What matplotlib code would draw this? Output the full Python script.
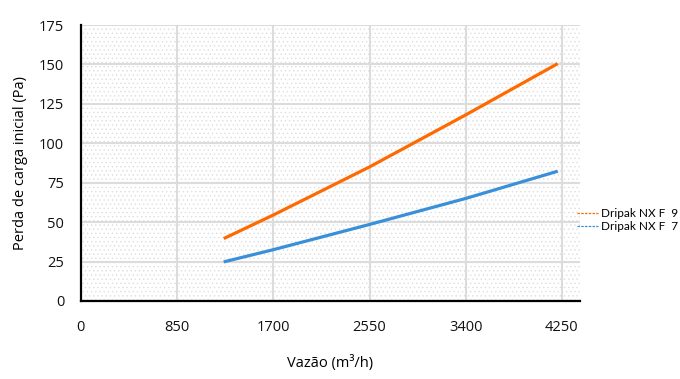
import numpy as np
import matplotlib
matplotlib.use("Agg")
import matplotlib.pyplot as plt
from matplotlib.patches import Rectangle
from matplotlib.lines import Line2D

# dados
vazao = [1275, 1700, 2550, 3400, 4200]
perda_f9 = [40, 54.5, 85, 118, 150]
perda_f7 = [25, 32.5, 48.5, 65, 82]
serie_nomes = ["Dripak NX F  9", "Dripak NX F  7"]
x_ticks = [0, 850, 1700, 2550, 3400, 4250]
y_ticks = [0, 25, 50, 75, 100, 125, 150, 175]

cor_f9 = "#FF6A00"
cor_f7 = "#3A90D8"

plt.rcParams['font.family'] = ['Open Sans', 'DejaVu Sans']
plt.rcParams['hatch.color'] = '#dedede'
plt.rcParams['hatch.linewidth'] = 0.5

fig = plt.figure(figsize=(6.8, 3.79), dpi=100)
ax = fig.add_axes([0.119, 0.206, 0.734, 0.728])

# fundo pontilhado
ax.add_patch(Rectangle((0, 0), 1, 1, transform=ax.transAxes, facecolor='white',
                       edgecolor='#dedede', hatch='....', linewidth=0, zorder=0))

ax.plot(vazao, perda_f9, color=cor_f9, lw=2.3, zorder=3)
ax.plot(vazao, perda_f7, color=cor_f7, lw=2.3, zorder=3)

ax.set_xlim(0, 4410)
ax.set_ylim(0, 175)
ax.set_xticks(x_ticks)
ax.set_yticks(y_ticks)
ax.grid(True, color='#dcdcdc', lw=1.5, zorder=1)
ax.set_axisbelow(True)
ax.tick_params(length=0, labelsize=10.5, colors='#111111')
ax.tick_params(axis='x', pad=14)
ax.tick_params(axis='y', pad=12)

for s in ['top', 'right']:
    ax.spines[s].set_visible(False)
for s in ['left', 'bottom']:
    ax.spines[s].set_linewidth(1.6)
    ax.spines[s].set_color('black')
    ax.spines[s].set_zorder(4)

ax.set_ylabel("Perda de carga inicial (Pa)", fontsize=10.5, labelpad=8)
ax.set_xlabel("Vazão (m³/h)", fontsize=10.5, labelpad=14)

handles = [Line2D([0], [0], color=cor_f9, lw=0.9, ls=(0, (2, 1))),
           Line2D([0], [0], color=cor_f7, lw=0.9, ls=(0, (2, 1)))]
fig.legend(handles, serie_nomes, loc='center left', bbox_to_anchor=(0.848, 0.42),
           frameon=False, prop={'family': 'Lato', 'size': 8.5},
           handlelength=1.8, handletextpad=0.3, labelspacing=0.2,
           borderpad=0, borderaxespad=0)

fig.savefig("out.png", dpi=100)
